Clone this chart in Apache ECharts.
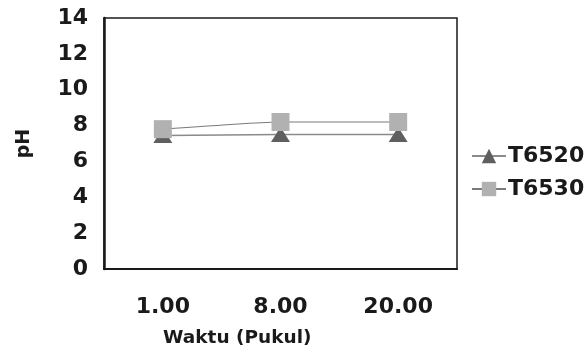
<!DOCTYPE html>
<html>
<head>
<meta charset="utf-8">
<script src="https://cdn.jsdelivr.net/npm/echarts@6/dist/echarts.min.js"></script>
<style>
  html, body { margin: 0; padding: 0; background: #fff; }
  #chart { width: 585px; height: 354px; }
</style>
</head>
<body>
<div id="chart"></div>
<script>
// pH readings at each sampling time
const categories = ['1.00', '8.00', '20.00'];
const t6520 = [7.45, 7.5, 7.5];
const t6530 = [7.8, 8.2, 8.2];
const yTicks = { min: 0, max: 14, interval: 2 };

const FONT = '"DejaVu Sans", "Open Sans", sans-serif';
const INK = '#1a1a1a';

const chart = echarts.init(document.getElementById('chart'), null, { renderer: 'canvas' });

chart.setOption({
  animation: false,
  backgroundColor: '#ffffff',
  grid: {
    left: 104, top: 18, right: 128, bottom: 85,
    show: true, borderColor: INK, borderWidth: 1.5,
    containLabel: false
  },
  title: {
    text: 'Waktu (Pukul)',
    left: 163, top: 329,
    padding: 0,
    textStyle: { fontFamily: FONT, fontWeight: 'bold', fontSize: 18.5, color: INK }
  },
  legend: {
    orient: 'vertical',
    left: 466, top: 140,
    itemWidth: 34, itemHeight: 18, itemGap: 11,
    textStyle: { fontFamily: FONT, fontWeight: 'bold', fontSize: 22, color: INK, padding: [0, 0, 0, -3] },
    data: ['T6520', 'T6530']
  },
  xAxis: {
    type: 'category',
    data: categories,
    boundaryGap: true,
    axisLine: { show: true, lineStyle: { color: INK, width: 2 } },
    axisTick: { show: false },
    axisLabel: { fontFamily: FONT, fontWeight: 'bold', fontSize: 22, color: INK, margin: 27 },
    splitLine: { show: false }
  },
  yAxis: {
    type: 'value',
    min: yTicks.min, max: yTicks.max, interval: yTicks.interval,
    name: 'pH',
    nameLocation: 'middle',
    nameGap: 70,
    nameRotate: 90,
    nameTextStyle: { fontFamily: FONT, fontWeight: 'bold', fontSize: 19, color: INK },
    axisLine: { show: true, lineStyle: { color: INK, width: 2.5 } },
    axisTick: { show: false },
    axisLabel: { fontFamily: FONT, fontWeight: 'bold', fontSize: 22, color: INK, margin: 16 },
    splitLine: { show: false }
  },
  series: [
    {
      name: 'T6520',
      type: 'line',
      data: t6520,
      smooth: 0.15,
      symbol: 'triangle',
      symbolSize: [19, 15],
      itemStyle: { color: '#5f5f5f' },
      lineStyle: { color: '#8a8a8a', width: 1.5 }
    },
    {
      name: 'T6530',
      type: 'line',
      data: t6530,
      smooth: 0.15,
      symbol: 'rect',
      symbolSize: [18, 18],
      itemStyle: { color: '#b1b1b1' },
      lineStyle: { color: '#7a7a7a', width: 1.2 }
    }
  ]
});
</script>
</body>
</html>
